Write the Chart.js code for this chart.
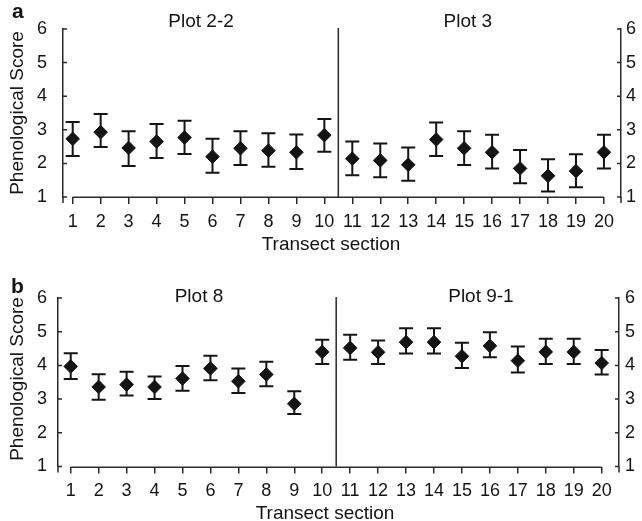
<!DOCTYPE html>
<html>
<head>
<meta charset="utf-8">
<script src="https://cdn.jsdelivr.net/npm/chart.js@4.4.1/dist/chart.umd.min.js"></script>
<style>
  html, body { margin: 0; padding: 0; background: #fff; }
  #wrap { position: relative; width: 642px; height: 521px; overflow: hidden; background: #fff; }
  canvas { position: absolute; left: 0; }
</style>
</head>
<body>
<div id="wrap">
  <canvas id="chartA" width="642" height="260" style="top:0px"></canvas>
  <canvas id="chartB" width="642" height="261" style="top:260px"></canvas>
</div>
<script>
// ---- data ----
const sections = [1,2,3,4,5,6,7,8,9,10,11,12,13,14,15,16,17,18,19,20];
const yTickValues = [1,2,3,4,5,6];

// Panel a: Plot 2-2 (sections 1-10) and Plot 3 (sections 11-20)
const meanA  = [2.73,2.93,2.46,2.65,2.77,2.20,2.45,2.38,2.33,2.84,2.14,2.09,1.96,2.71,2.45,2.33,1.85,1.63,1.77,2.33];
const upperA = [3.23,3.47,2.96,3.17,3.27,2.73,2.96,2.90,2.86,3.32,2.65,2.59,2.47,3.22,2.96,2.85,2.40,2.12,2.27,2.85];
const lowerA = [2.22,2.49,1.92,2.16,2.28,1.72,1.95,1.90,1.83,2.35,1.65,1.59,1.48,2.22,1.95,1.85,1.41,1.16,1.29,1.85];

// Panel b: Plot 8 (sections 1-10) and Plot 9-1 (sections 11-20)
const meanB  = [3.97,3.36,3.43,3.36,3.61,3.91,3.53,3.73,2.86,4.40,4.52,4.39,4.69,4.69,4.27,4.58,4.14,4.40,4.40,4.07];
const upperB = [4.36,3.74,3.81,3.67,3.98,4.29,3.91,4.11,3.23,4.76,4.91,4.74,5.10,5.10,4.67,4.98,4.56,4.79,4.79,4.46];
const lowerB = [3.60,2.98,3.11,3.00,3.25,3.56,3.18,3.38,2.56,4.04,4.17,4.04,4.35,4.35,3.92,4.24,3.79,4.04,4.04,3.73];

const plotTitlesA = ['Plot 2-2', 'Plot 3'];
const plotTitlesB = ['Plot 8', 'Plot 9-1'];
const panelLetters = ['a', 'b'];
const yTitle = 'Phenological Score';
const xTitle = 'Transect section';
const dividerAt = 10.5;

// ---- styling ----
const FONT = '"Liberation Sans", Arial, Helvetica, sans-serif';
const INK = '#141414';
const AXIS = '#2a2a2a';

function makeDeco(P) {
  return {
    id: 'deco_' + P.id,
    beforeDatasetsDraw(chart) {
      const ctx = chart.ctx, xs = chart.scales.x, ys = chart.scales.y;
      ctx.save();
      ctx.strokeStyle = INK;
      ctx.lineWidth = 2;
      for (let i = 0; i < P.mean.length; i++) {
        const x = xs.getPixelForValue(sections[i]);
        const yU = ys.getPixelForValue(P.upper[i]);
        const yL = ys.getPixelForValue(P.lower[i]);
        ctx.beginPath();
        ctx.moveTo(x, yU); ctx.lineTo(x, yL);
        ctx.moveTo(x - 7, yU); ctx.lineTo(x + 7, yU);
        ctx.moveTo(x - 7, yL); ctx.lineTo(x + 7, yL);
        ctx.stroke();
      }
      ctx.restore();
    },
    afterDraw(chart) {
      const ctx = chart.ctx, xs = chart.scales.x, ys = chart.scales.y;
      const ca = chart.chartArea;
      ctx.save();
      ctx.strokeStyle = AXIS;
      ctx.lineWidth = 1.5;
      // x axis line from first to last section
      const xb = Math.round(ca.bottom) + 0.25;
      ctx.beginPath();
      ctx.moveTo(xs.getPixelForValue(sections[0]), xb);
      ctx.lineTo(xs.getPixelForValue(sections[sections.length - 1]), xb);
      ctx.stroke();
      // inward tick marks on both y axes + small extension below
      ctx.beginPath();
      yTickValues.forEach(v => {
        const y = ys.getPixelForValue(v);
        ctx.moveTo(ca.left, y); ctx.lineTo(ca.left + 4, y);
        ctx.moveTo(ca.right, y); ctx.lineTo(ca.right - 4, y);
      });
      ctx.moveTo(ca.left, ca.bottom); ctx.lineTo(ca.left, ca.bottom + 6);
      ctx.moveTo(ca.right, ca.bottom); ctx.lineTo(ca.right, ca.bottom + 6);
      // divider between the two plots
      const xd = xs.getPixelForValue(dividerAt);
      ctx.moveTo(xd, ys.getPixelForValue(6) - 1); ctx.lineTo(xd, ca.bottom);
      ctx.stroke();

      // texts
      ctx.fillStyle = INK;
      ctx.textBaseline = 'alphabetic';
      ctx.textAlign = 'left';
      ctx.font = 'bold 21px ' + FONT;
      ctx.fillText(P.letter, P.letterX, P.letterY);

      ctx.textAlign = 'center';
      ctx.font = '19px ' + FONT;
      ctx.fillText(P.titles[0], xs.getPixelForValue(P.titleX[0]), P.titleY);
      ctx.fillText(P.titles[1], xs.getPixelForValue(P.titleX[1]), P.titleY);

      ctx.fillText(xTitle, P.xTitleX, P.xTitleY);

      ctx.save();
      ctx.translate(P.yTitleX, P.yTitleY);
      ctx.rotate(-Math.PI / 2);
      ctx.font = '19px ' + FONT;
      ctx.textBaseline = 'middle';
      ctx.fillText(yTitle, 0, 0);
      ctx.restore();

      ctx.restore();
    }
  };
}

function makeChart(canvasId, P) {
  const tickFont = { size: 18, family: FONT };
  return new Chart(document.getElementById(canvasId), {
    type: 'scatter',
    data: {
      datasets: [{
        data: sections.map((s, i) => ({ x: s, y: P.mean[i] })),
        pointStyle: 'rectRot',
        pointRadius: 6.8,
        pointBorderWidth: 1,
        backgroundColor: INK,
        borderColor: INK,
        showLine: false
      }]
    },
    options: {
      responsive: false,
      animation: false,
      devicePixelRatio: 1,
      layout: { padding: { top: P.top, left: 0, right: 0, bottom: 0 } },
      plugins: { legend: { display: false }, tooltip: { enabled: false }, title: { display: false } },
      scales: {
        x: {
          type: 'linear', position: 'bottom', min: P.xmin, max: P.xmax,
          afterBuildTicks: s => { s.ticks = sections.map(v => ({ value: v })); },
          afterFit: s => { s.height = P.xh; },
          border: { display: false },
          grid: { drawOnChartArea: false, drawTicks: true, tickLength: 7, color: AXIS, lineWidth: 1.5 },
          ticks: { font: tickFont, color: INK, padding: 7, maxRotation: 0, autoSkip: false, callback: v => String(v) }
        },
        y: {
          type: 'linear', position: 'left', min: 1, max: 6,
          afterBuildTicks: s => { s.ticks = yTickValues.map(v => ({ value: v })); },
          afterFit: s => { s.width = P.left; },
          border: { display: true, color: AXIS, width: 1.5 },
          grid: { drawOnChartArea: false, drawTicks: false },
          ticks: { font: tickFont, color: INK, padding: P.lPad, callback: v => String(v) }
        },
        y2: {
          type: 'linear', position: 'right', min: 1, max: 6,
          afterBuildTicks: s => { s.ticks = yTickValues.map(v => ({ value: v })); },
          afterFit: s => { s.width = 642 - P.right; },
          border: { display: true, color: AXIS, width: 1.5 },
          grid: { drawOnChartArea: false, drawTicks: false },
          ticks: { font: tickFont, color: INK, padding: P.rPad, callback: v => String(v) }
        }
      }
    },
    plugins: [makeDeco(P)]
  });
}

makeChart('chartA', {
  id: 'a', mean: meanA, upper: upperA, lower: lowerA,
  top: 29, xh: 63, left: 63, right: 621, xmin: 0.653, xmax: 20.61,
  lPad: 16, rPad: 5,
  letter: panelLetters[0], letterX: 12, letterY: 18,
  titles: plotTitlesA, titleX: [5.59, 15.13], titleY: 27,
  xTitleX: 331, xTitleY: 250,
  yTitleX: 18, yTitleY: 113
});

makeChart('chartB', {
  id: 'b', mean: meanB, upper: upperB, lower: lowerB,
  top: 38, xh: 54.5, left: 58, right: 619, xmin: 0.545, xmax: 20.62,
  lPad: 11, rPad: 6,
  letter: panelLetters[1], letterX: 11, letterY: 33,
  titles: plotTitlesB, titleX: [5.59, 15.68], titleY: 41.5,
  xTitleX: 325, xTitleY: 259,
  yTitleX: 18, yTitleY: 119
});
</script>
</body>
</html>
